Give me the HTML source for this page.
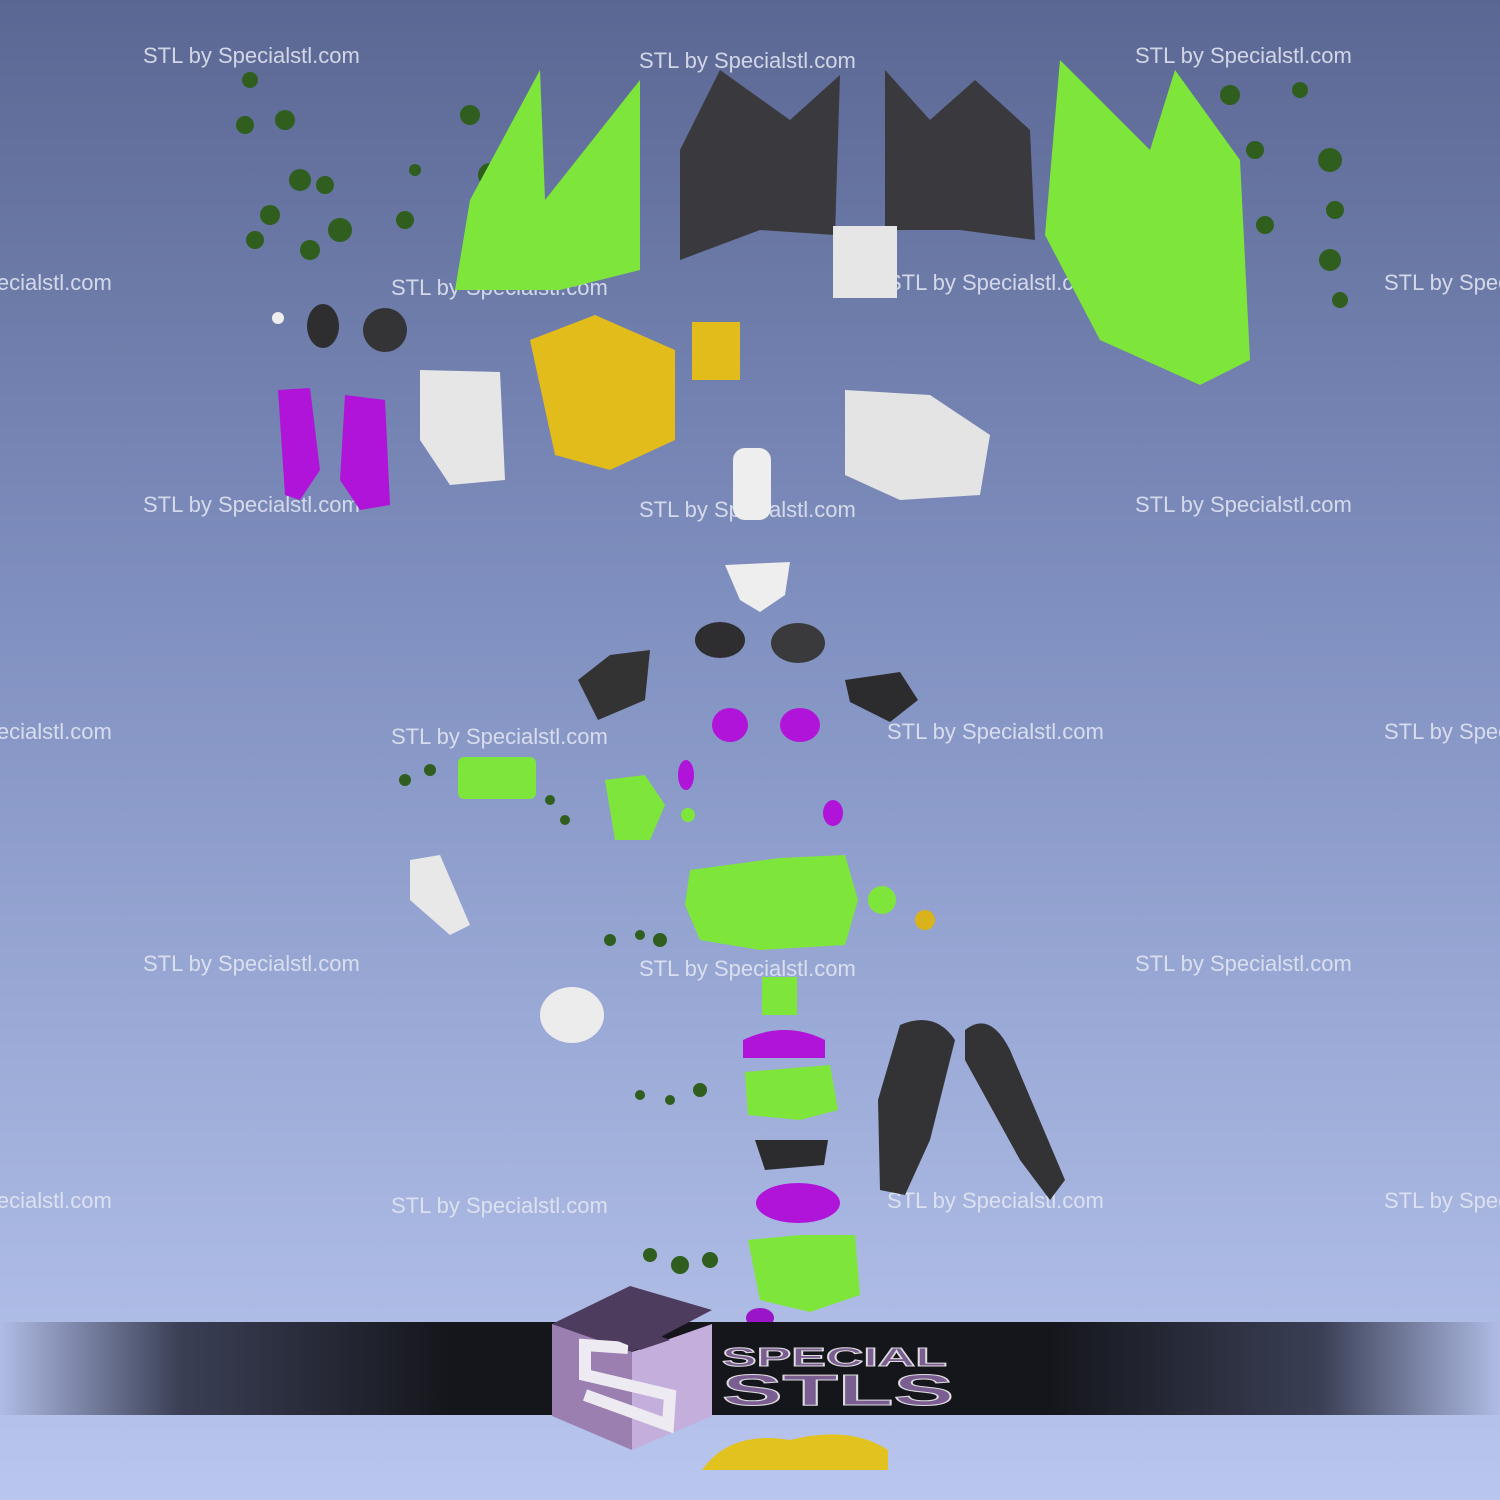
<!DOCTYPE html>
<html><head><meta charset="utf-8"><style>
html,body{margin:0;padding:0;width:1500px;height:1500px;overflow:hidden}
svg{display:block}
text{font-family:"Liberation Sans",sans-serif}
</style></head><body>
<svg width="1500" height="1500" viewBox="0 0 1500 1500" xmlns="http://www.w3.org/2000/svg">
<defs>
<linearGradient id="bg" x1="0" y1="0" x2="0" y2="1">
<stop offset="0" stop-color="#5b6793"/><stop offset="0.4" stop-color="#7f8fbf"/><stop offset="1" stop-color="#b9c7ef"/>
</linearGradient>
<linearGradient id="bar" x1="0" y1="0" x2="1" y2="0">
<stop offset="0" stop-color="#b0bce6"/><stop offset="0.12" stop-color="#3a3f55"/><stop offset="0.3" stop-color="#15161c"/><stop offset="0.7" stop-color="#15161c"/><stop offset="0.88" stop-color="#3a3f55"/><stop offset="1" stop-color="#b0bce6"/>
</linearGradient>
</defs>
<rect width="1500" height="1500" fill="url(#bg)"/>
<g fill="#e6e9f4" font-size="22" opacity="0.85">
<text x="143" y="63">STL by Specialstl.com</text>
<text x="639" y="68">STL by Specialstl.com</text>
<text x="1135" y="63">STL by Specialstl.com</text>
<text x="-105" y="290">STL by Specialstl.com</text>
<text x="391" y="295">STL by Specialstl.com</text>
<text x="887" y="290">STL by Specialstl.com</text>
<text x="1384" y="290">STL by Specialstl.com</text>
<text x="143" y="512">STL by Specialstl.com</text>
<text x="639" y="517">STL by Specialstl.com</text>
<text x="1135" y="512">STL by Specialstl.com</text>
<text x="-105" y="739">STL by Specialstl.com</text>
<text x="391" y="744">STL by Specialstl.com</text>
<text x="887" y="739">STL by Specialstl.com</text>
<text x="1384" y="739">STL by Specialstl.com</text>
<text x="143" y="971">STL by Specialstl.com</text>
<text x="639" y="976">STL by Specialstl.com</text>
<text x="1135" y="971">STL by Specialstl.com</text>
<text x="-105" y="1208">STL by Specialstl.com</text>
<text x="391" y="1213">STL by Specialstl.com</text>
<text x="887" y="1208">STL by Specialstl.com</text>
<text x="1384" y="1208">STL by Specialstl.com</text>
</g>
<g fill="#2f5e1e">
<circle cx="250" cy="80" r="8"/><circle cx="245" cy="125" r="9"/><circle cx="285" cy="120" r="10"/><circle cx="300" cy="180" r="11"/><circle cx="270" cy="215" r="10"/><circle cx="325" cy="185" r="9"/><circle cx="340" cy="230" r="12"/><circle cx="310" cy="250" r="10"/><circle cx="255" cy="240" r="9"/><circle cx="405" cy="220" r="9"/><circle cx="470" cy="115" r="10"/><circle cx="490" cy="175" r="12"/><circle cx="415" cy="170" r="6"/>
<circle cx="1230" cy="95" r="10"/><circle cx="1255" cy="150" r="9"/><circle cx="1300" cy="90" r="8"/><circle cx="1330" cy="160" r="12"/><circle cx="1335" cy="210" r="9"/><circle cx="1330" cy="260" r="11"/><circle cx="1340" cy="300" r="8"/><circle cx="1265" cy="225" r="9"/>
<circle cx="405" cy="780" r="6"/><circle cx="430" cy="770" r="6"/><circle cx="550" cy="800" r="5"/><circle cx="565" cy="820" r="5"/>
<circle cx="610" cy="940" r="6"/><circle cx="640" cy="935" r="5"/><circle cx="660" cy="940" r="7"/>
<circle cx="640" cy="1095" r="5"/><circle cx="670" cy="1100" r="5"/><circle cx="700" cy="1090" r="7"/>
<circle cx="650" cy="1255" r="7"/><circle cx="680" cy="1265" r="9"/><circle cx="710" cy="1260" r="8"/>
</g>
<path d="M455 290 L470 200 L540 70 L545 200 L640 80 L640 270 L560 290 Z" fill="#7ee63a"/>
<path d="M680 260 L680 150 L720 70 L790 120 L840 75 L835 235 L760 230 Z" fill="#3a3a3e"/>
<path d="M885 230 L885 70 L930 120 L975 80 L1030 130 L1035 240 L960 230 Z" fill="#3a3a3e"/>
<rect x="833" y="226" width="64" height="72" fill="#e6e6e6"/>
<path d="M1045 235 L1060 60 L1150 150 L1175 70 L1240 160 L1250 360 L1200 385 L1100 340 Z" fill="#7ee63a"/>
<circle cx="278" cy="318" r="6" fill="#eee"/>
<ellipse cx="323" cy="326" rx="16" ry="22" fill="#2e2e30"/>
<circle cx="385" cy="330" r="22" fill="#343436"/>
<path d="M278 390 L310 388 L320 470 L300 500 L285 495 Z" fill="#b014d8"/>
<path d="M345 395 L385 400 L390 505 L360 510 L340 480 Z" fill="#b014d8"/>
<path d="M420 370 L500 372 L505 480 L450 485 L420 440 Z" fill="#e6e6e6"/>
<path d="M530 340 L595 315 L675 350 L675 440 L610 470 L555 455 Z" fill="#e2bc1a"/>
<rect x="692" y="322" width="48" height="58" fill="#e2bc1a"/>
<rect x="733" y="448" width="38" height="72" rx="12" fill="#eee"/>
<path d="M845 390 L930 395 L990 435 L980 495 L900 500 L845 475 Z" fill="#e4e4e4"/>
<path d="M725 565 L790 562 L785 595 L760 612 L740 600 Z" fill="#eee"/>
<ellipse cx="720" cy="640" rx="25" ry="18" fill="#2e2e30"/>
<ellipse cx="798" cy="643" rx="27" ry="20" fill="#3a3a3c"/>
<path d="M578 680 L610 655 L650 650 L645 700 L598 720 Z" fill="#333"/>
<path d="M845 680 L900 672 L918 700 L890 722 L850 702 Z" fill="#2c2c2e"/>
<ellipse cx="730" cy="725" rx="18" ry="17" fill="#b014d8"/>
<ellipse cx="800" cy="725" rx="20" ry="17" fill="#b014d8"/>
<ellipse cx="686" cy="775" rx="8" ry="15" fill="#b014d8"/>
<ellipse cx="833" cy="813" rx="10" ry="13" fill="#b014d8"/>
<rect x="458" y="757" width="78" height="42" rx="6" fill="#7ee63a"/>
<path d="M605 780 L645 775 L665 805 L650 840 L615 840 Z" fill="#7ee63a"/>
<circle cx="688" cy="815" r="7" fill="#7ee63a"/>
<path d="M410 860 L440 855 L470 925 L450 935 L410 900 Z" fill="#e8e8e8"/>
<path d="M690 870 L780 858 L845 855 L858 900 L845 945 L760 950 L700 940 L685 905 Z" fill="#7ee63a"/>
<circle cx="882" cy="900" r="14" fill="#7ee63a"/>
<circle cx="925" cy="920" r="10" fill="#d8b41a"/>
<ellipse cx="572" cy="1015" rx="32" ry="28" fill="#ececec"/>
<rect x="762" y="977" width="35" height="38" fill="#7ee63a"/>
<path d="M743 1040 Q785 1020 825 1040 L825 1058 L743 1058 Z" fill="#b014d8"/>
<path d="M745 1072 L830 1065 L838 1110 L800 1120 L748 1115 Z" fill="#7ee63a"/>
<path d="M755 1140 L828 1140 L824 1165 L765 1170 Z" fill="#2c2c2e"/>
<ellipse cx="798" cy="1203" rx="42" ry="20" fill="#b014d8"/>
<path d="M900 1025 Q935 1010 955 1040 L930 1140 L905 1195 L880 1190 L878 1100 Z" fill="#333335"/>
<path d="M965 1030 Q990 1010 1010 1050 L1065 1180 L1050 1200 L1020 1160 L965 1060 Z" fill="#333335"/>
<path d="M748 1240 L800 1235 L855 1235 L860 1295 L810 1312 L760 1300 Z" fill="#7ee63a"/>
<ellipse cx="760" cy="1318" rx="14" ry="10" fill="#9a14c8"/>
<rect x="0" y="1322" width="1500" height="93" fill="url(#bar)"/>
<polygon points="552,1324 630,1286 712,1310 632,1352" fill="#4e3c5e"/>
<polygon points="552,1324 632,1352 632,1450 552,1416" fill="#9a7fb0"/>
<polygon points="632,1352 712,1324 712,1416 632,1450" fill="#c4aedb"/>
<path d="M628 1348 L585 1345 L585 1375 L670 1395 L668 1425 L585 1395" stroke="#eeeaf2" stroke-width="12" fill="none"/>
<polygon points="610,1338 640,1328 670,1340 640,1350" fill="#4e3c5e"/>
<text x="722" y="1366" font-size="26" font-weight="bold" fill="#7a5e92" stroke="#ddd" stroke-width="1" textLength="225" lengthAdjust="spacingAndGlyphs">SPECIAL</text>
<text x="722" y="1405" font-size="44" font-weight="bold" fill="#7a5e92" stroke="#ddd" stroke-width="1" textLength="232" lengthAdjust="spacingAndGlyphs">STLS</text>
<path d="M702 1470 Q730 1430 790 1440 Q850 1425 888 1450 L888 1470 Z" fill="#e2c21e"/>
</svg>
</body></html>
